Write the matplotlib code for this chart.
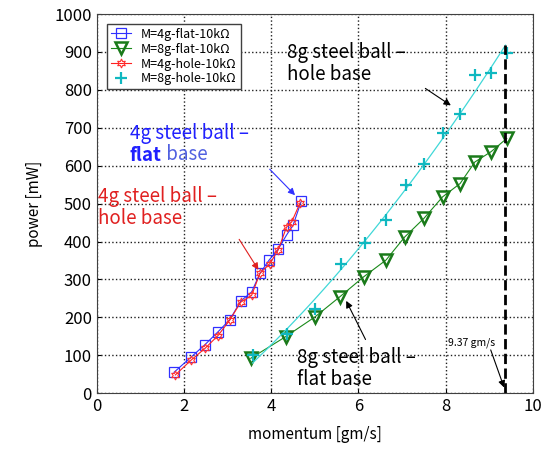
import matplotlib
matplotlib.use("Agg")
import matplotlib.pyplot as plt
import numpy as np

plt.rcParams['font.family'] = ['Noto Sans CJK JP', 'DejaVu Sans']

# 4g steel ball, flat base
x_4g_flat = [1.77, 2.17, 2.48, 2.78, 3.05, 3.30, 3.55, 3.74, 3.95, 4.16, 4.35, 4.50, 4.69]
y_4g_flat = [55, 96, 128, 162, 194, 243, 267, 316, 351, 380, 417, 443, 507]

# 4g steel ball, hole base
x_4g_hole = [1.80, 2.17, 2.48, 2.78, 3.05, 3.30, 3.55, 3.74, 3.97, 4.16, 4.35, 4.47, 4.66]
y_4g_hole = [48, 88, 118, 152, 193, 240, 258, 316, 342, 378, 438, 452, 502]

# 8g steel ball, flat base
x_8g_flat = [3.53, 4.33, 5.00, 5.57, 6.12, 6.63, 7.06, 7.50, 7.93, 8.33, 8.67, 9.04, 9.40]
y_8g_flat = [92, 149, 201, 254, 307, 351, 412, 461, 518, 553, 610, 637, 672]

# 8g steel ball, hole base
x_8g_hole = [3.57, 4.35, 5.01, 5.61, 6.15, 6.64, 7.09, 7.51, 7.93, 8.33, 8.67, 9.03, 9.40]
y_8g_hole = [100, 157, 223, 342, 395, 456, 549, 604, 687, 736, 839, 845, 896]

p_max = 9.37

fig = plt.figure(figsize=(5.5, 4.54), dpi=100)
ax = fig.add_axes([0.176, 0.134, 0.793, 0.835])

star6 = (6, 1, 0)
ax.plot(x_4g_flat, y_4g_flat, color='#3030ff', lw=0.8, marker='s', ms=7.5,
        mfc='none', mec='#3030ff', mew=0.9, label='M=4g-flat-10kΩ')
ax.plot(x_8g_flat, y_8g_flat, color='#1a8a1a', lw=0.8, marker='v', ms=9,
        mfc='none', mec='#1a7a1a', mew=1.8, label='M=8g-flat-10kΩ')
ax.plot(x_4g_hole, y_4g_hole, color='#ff2020', lw=0.8, marker=star6, ms=6.5,
        mfc='none', mec='#ff3030', mew=0.8, label='M=4g-hole-10kΩ')

# cyan trend line fitted to the 8g hole data
coef = np.polyfit(x_8g_hole, y_8g_hole, 2)
xf = np.linspace(x_8g_hole[0], p_max, 100)
ax.plot(xf, np.polyval(coef, xf), color='#40d8d8', lw=0.9)
ax.plot(x_8g_hole, y_8g_hole, ls='none', marker='+', ms=8, mew=1.6,
        color='#10b8c0', label='M=8g-hole-10kΩ')

ax.plot([p_max, p_max], [0, np.polyval(coef, p_max)], color='black', ls='--', lw=2)

ax.set_xlim(0, 10)
ax.set_ylim(0, 1000)
ax.set_xticks(np.arange(0, 11, 2))
ax.set_yticks(np.arange(0, 1001, 100))
ax.grid(True, color='#202020', ls=':', lw=1.0)
ax.tick_params(labelsize=12, length=3, direction='in')
for s in ax.spines.values():
    s.set_color('#404040')
ax.set_xlabel('momentum [gm/s]', fontsize=11, labelpad=8)
ax.set_ylabel('power [mW]', fontsize=11, labelpad=8)

leg = ax.legend(loc='upper left', fontsize=9, frameon=True, fancybox=False,
                edgecolor='#404040', handlelength=1.6, borderpad=0.3,
                labelspacing=0.15, bbox_to_anchor=(0.01, 0.99), framealpha=1)

fs = 13.5
ap = dict(arrowstyle='-|>', lw=0.8, mutation_scale=10)
ax.text(4.36, 870, '8g steel ball \u2013\nhole base', fontsize=fs, ha='left',
        va='center', linespacing=1.1)
ax.annotate('', xy=(8.17, 755), xytext=(7.48, 808), arrowprops=dict(color='black', **ap))

ax.annotate('', xy=(4.59, 517), xytext=(3.92, 596), arrowprops=dict(color='#3030ff', **ap))
ax.text(0.76, 686, '4g steel ball \u2013', fontsize=fs, color='#2020ff', va='center')
flat = ax.text(0.76, 628, 'flat', fontsize=fs, color='#2020ff', va='center', fontweight='bold')
ax.annotate(' base', xy=(1, 0), xycoords=flat, fontsize=fs, color='#5060e0',
            va='bottom', ha='left')

ax.text(0.03, 490, '4g steel ball \u2013\nhole base', fontsize=fs, color='#e02020',
        ha='left', va='center', linespacing=1.1)
ax.annotate('', xy=(3.74, 319), xytext=(3.23, 412), arrowprops=dict(color='#e02020', **ap))

ax.text(4.6, 65, '8g steel ball \u2013\nflat base', fontsize=fs, ha='left',
        va='center', linespacing=1.1)
ax.annotate('', xy=(5.69, 250), xytext=(6.19, 135), arrowprops=dict(color='black', **ap))

ax.text(8.05, 132, '9.37 gm/s', fontsize=7.5, va='center')
ax.annotate('', xy=(9.36, 8), xytext=(9.01, 121), arrowprops=dict(color='black', **ap))

fig.savefig('out.png', dpi=100)
